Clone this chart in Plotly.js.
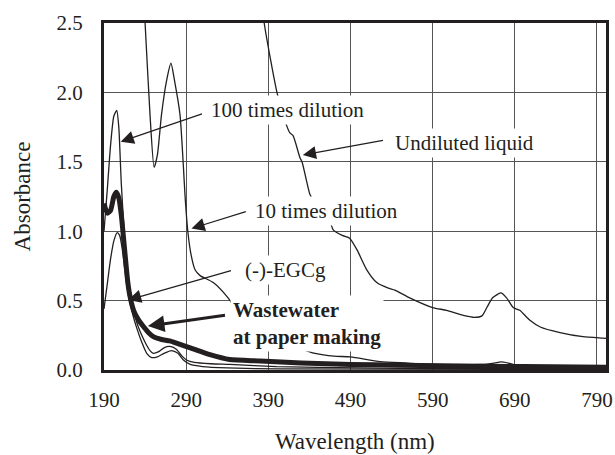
<!DOCTYPE html>
<html>
<head>
<meta charset="utf-8">
<script src="https://cdn.plot.ly/plotly-3.0.1.min.js"></script>
<style>html,body{margin:0;padding:0;background:#fff;}#chart{width:615px;height:455px;}</style>
</head>
<body>
<div id="chart"></div>
<script>
// Wavelength (nm) and absorbance values
const undilutedWl = [382, 385, 400.5, 410, 416, 420, 428.5, 431, 437, 441, 453, 465, 469, 480, 489, 498, 510, 522, 536, 544, 562, 590, 607, 623, 639, 650, 656, 663, 673, 680, 688, 696, 708, 721, 745, 773, 797, 801];
const undilutedAbs = [2.7, 2.5, 2.0, 1.8, 1.71, 1.69, 1.53, 1.5, 1.35, 1.26, 1.15, 1.07, 1.01, 0.97, 0.95, 0.865, 0.72, 0.63, 0.59, 0.576, 0.52, 0.45, 0.43, 0.40, 0.38, 0.39, 0.45, 0.52, 0.555, 0.52, 0.45, 0.43, 0.36, 0.31, 0.27, 0.24, 0.23, 0.228];

const dil10Wl = [238, 240, 246, 251, 255, 260, 266, 271.5, 276, 282.5, 286.5, 288.6, 292, 296, 301, 307, 323, 341, 360, 380, 400, 425, 447, 470, 490, 526, 560, 590, 620, 650, 665, 673, 682, 695, 720, 801];
const dil10Abs = [2.7, 2.5, 1.84, 1.46, 1.55, 1.84, 2.08, 2.21, 2.08, 1.84, 1.48, 1.26, 1.0, 0.83, 0.72, 0.68, 0.63, 0.52, 0.36, 0.26, 0.2, 0.16, 0.12, 0.1, 0.094, 0.06, 0.05, 0.04, 0.038, 0.04, 0.05, 0.058, 0.05, 0.03, 0.02, 0.015];

const dil100Wl = [190, 194, 198, 202, 205.5, 208, 211, 214, 217, 220, 224, 230, 240, 246, 250, 256, 263, 270, 278, 285, 291, 300, 320, 343, 400, 500, 600, 673, 700, 801];
const dil100Abs = [1.0, 1.3, 1.62, 1.83, 1.87, 1.75, 1.35, 1.05, 0.8, 0.63, 0.5, 0.34, 0.2, 0.14, 0.12, 0.13, 0.16, 0.17, 0.15, 0.1, 0.07, 0.055, 0.045, 0.04, 0.025, 0.015, 0.01, 0.012, 0.008, 0.005];

const egcgWl = [190, 194, 198, 202, 206, 209, 212, 215, 218, 221, 225, 230, 236, 242, 248, 255, 263, 272, 280, 287, 295, 310, 340, 400, 801];
const egcgAbs = [0.44, 0.62, 0.8, 0.93, 0.99, 0.97, 0.88, 0.74, 0.6, 0.5, 0.4, 0.3, 0.2, 0.12, 0.09, 0.095, 0.12, 0.14, 0.12, 0.07, 0.04, 0.025, 0.015, 0.008, 0.003];

const wasteWl = [190, 194, 198, 202, 205, 208, 211, 213, 216, 219, 222, 226, 231, 237, 244, 250, 260, 270, 280, 295, 319, 343, 380, 430, 490, 550, 600, 700, 801];
const wasteAbs = [1.2, 1.13, 1.15, 1.25, 1.28, 1.24, 1.12, 1.0, 0.81, 0.63, 0.52, 0.43, 0.37, 0.32, 0.27, 0.24, 0.22, 0.21, 0.19, 0.16, 0.11, 0.075, 0.065, 0.05, 0.04, 0.035, 0.03, 0.025, 0.02];

const xTicks = [190, 290, 390, 490, 590, 690, 790];
const yTicks = [0.0, 0.5, 1.0, 1.5, 2.0, 2.5];
const xTitle = 'Wavelength (nm)';
const yTitle = 'Absorbance';

const ink = '#231f20';
const serif = 'Liberation Serif';

function thin(x, y) {
  return {x: x, y: y, type: 'scatter', mode: 'lines', line: {color: ink, width: 1.3, shape: 'spline', smoothing: 0.6}, hoverinfo: 'skip'};
}
const traces = [
  thin(undilutedWl, undilutedAbs),
  thin(dil10Wl, dil10Abs),
  thin(dil100Wl, dil100Abs),
  thin(egcgWl, egcgAbs),
  {x: wasteWl, y: wasteAbs, type: 'scatter', mode: 'lines', line: {color: ink, width: 5, shape: 'spline', smoothing: 0.6}, hoverinfo: 'skip'}
];

function label(text, x, y) {
  return {text: text, x: x, y: y, xref: 'x', yref: 'y', xanchor: 'left', yanchor: 'middle', align: 'left',
    showarrow: false, bgcolor: '#ffffff', borderpad: 2,
    font: {family: serif, size: 21, color: ink}};
}
function arrow(hx, hy, tx, ty, w) {
  return {text: ' ', x: hx, y: hy, ax: tx, ay: ty, xref: 'x', yref: 'y', axref: 'x', ayref: 'y',
    showarrow: true, arrowhead: 2, arrowsize: w > 2 ? 1.1 : 2.2, arrowwidth: w, arrowcolor: ink, standoff: 0, startstandoff: 0,
    font: {size: 2}};
}

const layout = {
  width: 615, height: 455,
  margin: {l: 104, r: 9, t: 23, b: 85},
  paper_bgcolor: '#ffffff', plot_bgcolor: '#ffffff',
  showlegend: false,
  font: {family: serif, color: ink, size: 20},
  xaxis: {
    range: [190, 801], tickvals: xTicks, ticktext: xTicks.map(String),
    showgrid: true, gridcolor: '#555555', gridwidth: 1, zeroline: false,
    showline: true, mirror: true, linecolor: ink, linewidth: 3,
    ticks: 'outside', ticklen: 9, tickcolor: 'rgba(0,0,0,0)',
    tickfont: {family: serif, size: 21, color: ink}
  },
  yaxis: {
    range: [0, 2.5], tickvals: yTicks, tickformat: '.1f',
    showgrid: true, gridcolor: '#555555', gridwidth: 1, zeroline: false,
    showline: true, mirror: true, linecolor: ink, linewidth: 3,
    ticks: 'outside', ticklen: 14, tickcolor: 'rgba(0,0,0,0)',
    tickfont: {family: serif, size: 21, color: ink},
    title: {text: yTitle, font: {family: serif, size: 23, color: ink}, standoff: 20}
  },
  annotations: [
    {text: xTitle, x: 0.5, y: -0.205, xref: 'paper', yref: 'paper', xanchor: 'center', yanchor: 'middle',
      showarrow: false, font: {family: serif, size: 23, color: ink}},
    label('100 times dilution', 317, 1.873),
    label('Undiluted liquid', 540, 1.635),
    label('10 times dilution', 370, 1.146),
    label('(-)-EGCg', 358, 0.72),
    label('<b>Wastewater<br>at paper making</b>', 343, 0.335),
    arrow(210.3, 1.645, 311.7, 1.85, 1.2),
    arrow(432, 1.549, 532, 1.657, 1.2),
    arrow(296.5, 1.019, 365, 1.146, 1.2),
    arrow(219.2, 0.504, 347, 0.72, 1.2),
    arrow(243.5, 0.317, 339.7, 0.396, 3)
  ]
};

Plotly.newPlot('chart', traces, layout, {staticPlot: true, displayModeBar: false});
</script>
</body>
</html>
